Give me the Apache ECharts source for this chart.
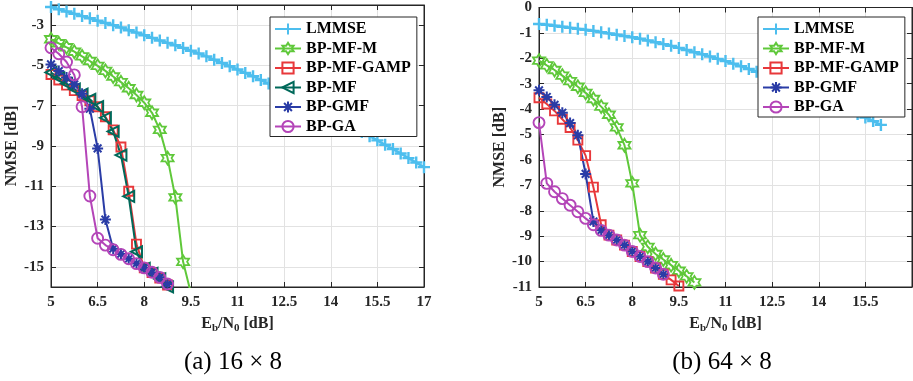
<!DOCTYPE html>
<html>
<head>
<meta charset="utf-8">
<script src="https://cdn.jsdelivr.net/npm/echarts@6/dist/echarts.min.js"></script>
<style>
  html, body { margin: 0; padding: 0; background: #fff; }
  #chart { width: 913px; height: 381px; }
</style>
</head>
<body>
<div id="chart"></div>
<script>
// Eb/N0 grid [dB]
const snr = [5, 5.25, 5.5, 5.75, 6, 6.25, 6.5, 6.75, 7, 7.25, 7.5, 7.75, 8, 8.25, 8.5, 8.75,
  9, 9.25, 9.5, 9.75, 10, 10.25, 10.5, 10.75, 11, 11.25, 11.5, 11.75, 12, 12.25, 12.5, 12.75,
  13, 13.25, 13.5, 13.75, 14, 14.25, 14.5, 14.75, 15, 15.25, 15.5, 15.75, 16, 16.25, 16.5, 16.75, 17];

const names = ["LMMSE", "BP-MF-M", "BP-MF-GAMP", "BP-MF", "BP-GMF", "BP-GA"];

// (a) 16x8 -- NMSE [dB]
const lmmseA = [-2.10, -2.21, -2.32, -2.44, -2.55, -2.66, -2.78, -2.89, -3.00, -3.12, -3.25, -3.37,
  -3.50, -3.63, -3.76, -3.88, -4.00, -4.13, -4.27, -4.41, -4.55, -4.72, -4.88, -5.04, -5.20, -5.37,
  -5.54, -5.72, -5.90, -6.08, -6.27, -6.46, -6.65, -6.85, -7.05, -7.25, -7.45, -7.66, -7.87, -8.08,
  -8.30, -8.51, -8.72, -8.94, -9.15, -9.37, -9.60, -9.82, -10.05];
const mfmA = [-3.70, -3.90, -4.10, -4.32, -4.55, -4.78, -5.02, -5.27, -5.55, -5.83, -6.13, -6.47,
  -6.85, -7.35, -8.20, -9.60, -11.55, -14.75, -16.30];
const gampA = [-5.45, -5.72, -5.98, -6.25, -6.50, -6.75, -7.05, -7.55, -8.20, -9.05, -11.25, -13.87,
  -15.05, -15.28, -15.55, -15.90];
const mfA = [-5.35, -5.62, -5.90, -6.17, -6.42, -6.68, -7.05, -7.60, -8.28, -9.45, -11.50, -14.25,
  -15.08, -15.32, -15.60, -16.00];
const gmfA = [-4.95, -5.28, -5.60, -5.94, -6.40, -7.15, -9.12, -12.65, -14.10, -14.36, -14.60, -14.83,
  -15.05, -15.28, -15.52, -15.85];
const gaA = [-4.12, -4.42, -4.83, -5.47, -7.05, -11.48, -13.58, -13.92, -14.15, -14.38, -14.60, -14.84,
  -15.05, -15.27, -15.52, -15.85];

// (b) 64x8 -- NMSE [dB]
const lmmseB = [-0.65, -0.68, -0.72, -0.76, -0.80, -0.84, -0.88, -0.92, -0.97, -1.02, -1.07, -1.12,
  -1.17, -1.23, -1.30, -1.37, -1.44, -1.51, -1.59, -1.67, -1.76, -1.84, -1.93, -2.02, -2.11, -2.21,
  -2.31, -2.42, -2.53, -2.64, -2.75, -2.86, -2.98, -3.11, -3.24, -3.37, -3.50, -3.63, -3.77, -3.91,
  -4.05, -4.19, -4.33, -4.47, -4.62];
const mfmB = [-2.09, -2.28, -2.46, -2.68, -2.90, -3.12, -3.36, -3.60, -3.90, -4.22, -4.72, -5.42,
  -6.92, -8.96, -9.42, -9.70, -9.92, -10.14, -10.36, -10.58, -10.82];
const gampB = [-3.55, -3.80, -4.07, -4.40, -4.72, -5.22, -5.83, -7.07, -8.55, -8.96, -9.15, -9.35,
  -9.60, -9.80, -10.00, -10.25, -10.50, -10.72, -10.96];
const gmfB = [-3.26, -3.52, -3.83, -4.14, -4.55, -5.03, -6.55, -8.42, -8.77, -8.96, -9.15, -9.35,
  -9.60, -9.80, -10.00, -10.25, -10.50];
const gaB = [-4.53, -6.92, -7.25, -7.52, -7.78, -8.04, -8.30, -8.55, -8.77, -8.96, -9.15, -9.35,
  -9.60, -9.80, -10.00, -10.25, -10.50];

const xTicks = [5, 17, 1.5];
const yTicksA = [-15, -13, -11, -9, -7, -5, -3];

const font = '"Liberation Serif", "Times New Roman", serif';
const ink = "#262626";
const gridLine = "#e2e2e2";

const styles = {
  "LMMSE": { color: "#4dbeee", symbol: "path://M0,5H10M5,0V10", size: 12, lw: 2.6, bw: 2.4 },
  "BP-MF-M": { color: "#5fc83a", symbol: "path://M100,0L128.9,50L186.6,50L157.7,100L186.6,150L128.9,150L100,200L71.1,150L13.4,150L42.3,100L13.4,50L71.1,50Z", size: [12, 13], lw: 2, bw: 1.8 },
  "BP-MF-GAMP": { color: "#e8383b", symbol: "rect", size: 9, lw: 2, bw: 1.9 },
  "BP-MF": { color: "#00695a", symbol: "path://M0,5L10,0L10,10Z", size: 11, lw: 2, bw: 2 },
  "BP-GMF": { color: "#2a3ca6", symbol: "path://M5,0V10M0,5H10M1.5,1.5L8.5,8.5M1.5,8.5L8.5,1.5", size: 11, lw: 2, bw: 2 },
  "BP-GA": { color: "#b445b8", symbol: "circle", size: 11, lw: 2, bw: 1.9 }
};

function makeSeries(name, values, idx) {
  const s = styles[name];
  return {
    name: name,
    type: "line",
    xAxisIndex: idx * 2,
    yAxisIndex: idx * 2,
    data: values.map((v, i) => [snr[i], v]),
    symbol: s.symbol,
    symbolSize: s.size,
    showAllSymbol: true,
    clip: true,
    lineStyle: { color: s.color, width: s.lw },
    itemStyle: { color: "rgba(0,0,0,0)", borderColor: s.color, borderWidth: s.bw },
    emphasis: { disabled: true }
  };
}

function bottomX(grid, showMax) {
  return {
    gridIndex: grid, type: "value", position: "bottom",
    min: xTicks[0], max: xTicks[1], interval: xTicks[2],
    axisLine: { onZero: false, lineStyle: { color: ink } },
    axisTick: { inside: true, length: 5, lineStyle: { color: ink } },
    axisLabel: { fontFamily: font, fontWeight: "bold", fontSize: 15, color: ink, margin: 8, showMaxLabel: showMax },
    splitLine: { show: true, lineStyle: { color: gridLine } },
    name: "E{sub|b}/N{sub|0} [dB]",
    nameLocation: "middle", nameGap: 27,
    nameTextStyle: {
      fontFamily: font, fontWeight: "bold", fontSize: 16, color: ink,
      rich: { sub: { fontFamily: font, fontWeight: "bold", fontSize: 11, color: ink, padding: [9, 0, 0, 0] } }
    }
  };
}

function topX(grid) {
  return {
    gridIndex: grid, type: "value", position: "top",
    min: xTicks[0], max: xTicks[1], interval: xTicks[2],
    axisLine: { onZero: false, lineStyle: { color: ink } },
    axisTick: { inside: true, length: 5, lineStyle: { color: ink } },
    axisLabel: { show: false },
    splitLine: { show: false }
  };
}

function yAxes(grid, min, max, custom) {
  const base = {
    gridIndex: grid, type: "value", min: min, max: max, interval: 1,
    axisLine: { show: true, onZero: false, lineStyle: { color: ink } }
  };
  const tick = { inside: true, length: 5, lineStyle: { color: ink } };
  if (custom) tick.customValues = custom;
  const label = { fontFamily: font, fontWeight: "bold", fontSize: 15, color: ink, margin: 7 };
  if (custom) label.customValues = custom;
  return [
    Object.assign({}, base, {
      position: "left", axisTick: tick, axisLabel: label,
      splitLine: { show: true, lineStyle: { color: gridLine } },
      name: "NMSE [dB]", nameLocation: "middle", nameGap: 31,
      nameTextStyle: { fontFamily: font, fontWeight: "bold", fontSize: 16, color: ink }
    }),
    Object.assign({}, base, {
      position: "right", axisTick: tick, axisLabel: { show: false }, splitLine: { show: false }
    })
  ];
}

function legendAt(left, data) {
  return {
    orient: "vertical", left: left, top: 17,
    data: data,
    itemWidth: 26, itemHeight: 14, itemGap: 3.5,
    padding: [4, 6, 2, 4],
    borderColor: ink, borderWidth: 1, borderRadius: 0,
    backgroundColor: "#fff",
    selectedMode: false,
    textStyle: { fontFamily: font, fontWeight: "bold", fontSize: 16, color: "#000" }
  };
}

function caption(text, x) {
  return {
    type: "text", x: x, y: 362,
    style: { text: text, font: '25px "Liberation Serif", serif', fill: "#000", textAlign: "center", textVerticalAlign: "middle" }
  };
}

const chart = echarts.init(document.getElementById("chart"));
chart.setOption({
  animation: false,
  backgroundColor: "#fff",
  grid: [
    { left: 51, top: 5, width: 373, height: 282, show: true, borderColor: ink, borderWidth: 1, backgroundColor: "transparent" },
    { left: 539, top: 6, width: 373, height: 281, show: true, borderColor: ink, borderWidth: 1, backgroundColor: "transparent" }
  ],
  xAxis: [bottomX(0, true), topX(0), bottomX(1, false), topX(1)],
  yAxis: yAxes(0, -16, -2, yTicksA).concat(yAxes(1, -11, 0, null)),
  legend: [
    legendAt(270, names),
    legendAt(758, ["LMMSE", "BP-MF-M", "BP-MF-GAMP", "BP-GMF", "BP-GA"])
  ],
  graphic: [caption("(a) 16 × 8", 233), caption("(b) 64 × 8", 722)],
  series: [
    makeSeries("LMMSE", lmmseA, 0),
    makeSeries("BP-MF-M", mfmA, 0),
    makeSeries("BP-MF-GAMP", gampA, 0),
    makeSeries("BP-MF", mfA, 0),
    makeSeries("BP-GMF", gmfA, 0),
    makeSeries("BP-GA", gaA, 0),
    makeSeries("LMMSE", lmmseB, 1),
    makeSeries("BP-MF-M", mfmB, 1),
    makeSeries("BP-MF-GAMP", gampB, 1),
    makeSeries("BP-GMF", gmfB, 1),
    makeSeries("BP-GA", gaB, 1)
  ]
});
</script>
</body>
</html>
